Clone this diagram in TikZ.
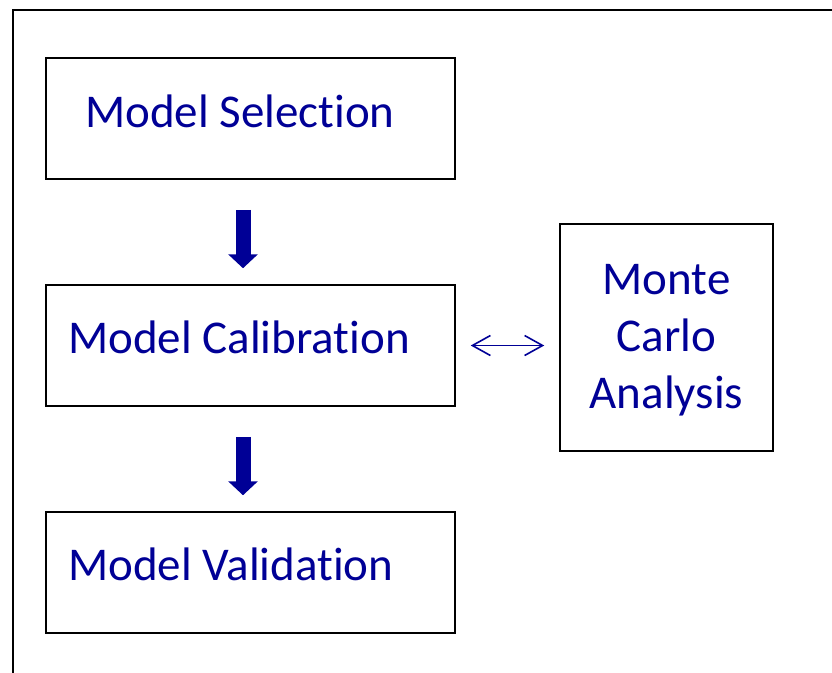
\documentclass[tikz,border=0pt]{standalone}
\usepackage{fontspec}
\setmainfont{Carlito}[Ligatures={NoCommon}]
\usetikzlibrary{arrows.meta,calc}
\definecolor{navy}{RGB}{0,0,150}
\tikzset{
  box/.style={draw=black, line width=1.5pt, minimum width=409pt, minimum height=121pt, inner sep=0pt},
  label/.style={text=navy, font=\fontsize{47}{57}\selectfont, inner sep=0pt},
  blockarrow/.style={draw=navy, line width=15pt, -{Triangle[width=29pt,length=14pt]}},
  dblarrow/.style={draw=navy, line width=1.6pt, {Straight Barb[length=18pt,width=20pt]}-{Straight Barb[length=18pt,width=20pt]}},
}
\begin{document}
\begin{tikzpicture}[x=1pt,y=-1pt]
\useasboundingbox (0,0) rectangle (832,672);
\draw[line width=2pt] (12.5,9.5) rectangle (860,700);
\node[box] (sel) at (250.5,118.5) {};
\node[box] (cal) at (250.5,345.5) {};
\node[box] (val) at (250.5,572.5) {};
\node[box, minimum width=213pt, minimum height=227pt] (mc) at (666.5,337.5) {};
\node[label, align=center] (tmc) at (666.5,340.5) {Monte\\Carlo\\Analysis};
\node[label, anchor=base west] (tsel) at (85,127) {Model Selection};
\node[label, anchor=base west] (tcal) at (68,353) {Model Calibration};
\node[label, anchor=base west] (tval) at (68,580) {Model Validation};
\draw[blockarrow] ($(sel.south)+(-7.5,30)$) -- ($(cal.north)+(-7.5,-16)$);
\draw[blockarrow] ($(cal.south)+(-7.5,30)$) -- ($(val.north)+(-7.5,-16)$);
\draw[dblarrow] ($(cal.east)+(15,0)$) -- ($(cal.east -| mc.west)+(-15,0)$);
\end{tikzpicture}
\end{document}
